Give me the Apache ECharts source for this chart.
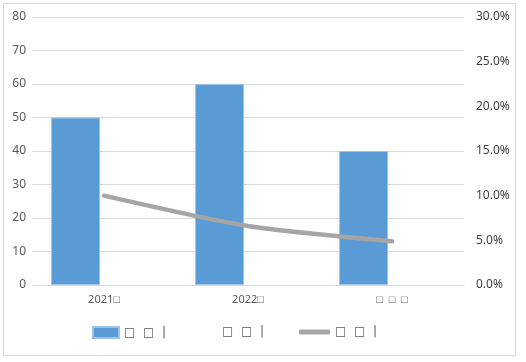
<!DOCTYPE html>
<html><head><meta charset="utf-8">
<script src="https://cdn.jsdelivr.net/npm/echarts@6/dist/echarts.min.js"></script>
<style>html,body{margin:0;padding:0;background:#fff}#c{width:526px;height:362px}</style>
</head><body><div id="c"></div>
<script>
var categories = ['2021□', '2022□', '□  □  □'];
var seriesNames = ['□  □  |', '□  □  |', '□  □  |'];
var barValues = [50, 60, 40];
var emptyBarValues = [null, null, null];
var rateValues = [0.100, 0.066, 0.049];
var leftTicks = {min: 0, max: 80, interval: 10};
var rightTicks = {min: 0, max: 0.3, interval: 0.05};

var chart = echarts.init(document.getElementById('c'));
var font = 'Noto Sans';
var legText = {color: '#595959', fontFamily: 'DejaVu Sans', fontSize: 12};
chart.setOption({
  animation: false,
  graphic: [{type: 'rect', shape: {x: 3.5, y: 3.5, width: 512, height: 352}, style: {fill: 'none', stroke: '#d9d9d9', lineWidth: 1}, silent: true}],
  grid: {left: 32, right: 62, top: 17, bottom: 77},
  legend: [
    {data: [{name: 'a', icon: 'rect'}], left: 92, top: 326, padding: 0, itemWidth: 26, itemHeight: 11, itemGap: 5,
     formatter: function(){return seriesNames[0];}, textStyle: legText},
    {data: [{name: 'b', icon: 'rect'}], left: 191, top: 326, padding: 0, itemWidth: 26, itemHeight: 11, itemGap: 5,
     formatter: function(){return seriesNames[1];}, textStyle: legText},
    {data: [{name: 'c', icon: 'roundRect'}], left: 299, top: 326, padding: 0, itemWidth: 31, itemHeight: 5, itemGap: 5,
     formatter: function(){return seriesNames[2];}, textStyle: legText}
  ],
  xAxis: {
    type: 'category', data: categories,
    axisLine: {lineStyle: {color: '#d9d9d9'}}, axisTick: {show: false},
    axisLabel: {color: '#595959', fontFamily: font, fontSize: 11, margin: 9}
  },
  yAxis: [
    {type: 'value', min: leftTicks.min, max: leftTicks.max, interval: leftTicks.interval,
     axisLine: {show: false}, axisTick: {show: false},
     splitLine: {lineStyle: {color: '#d9d9d9'}},
     axisLabel: {color: '#595959', fontFamily: font, fontSize: 12, margin: 6}},
    {type: 'value', min: rightTicks.min, max: rightTicks.max, interval: rightTicks.interval,
     axisLine: {show: false}, axisTick: {show: false}, splitLine: {show: false},
     axisLabel: {color: '#404040', fontFamily: font, fontSize: 12, margin: 12,
       formatter: function(v){return (v*100).toFixed(1) + '%';}}}
  ],
  series: [
    {name: 'a', type: 'bar', data: barValues, barWidth: 49, barGap: '16%',
     itemStyle: {color: '#5b9bd5', borderColor: '#9dc3e6', borderWidth: 1}},
    {name: 'b', type: 'bar', data: emptyBarValues, barWidth: 49,
     itemStyle: {color: 'rgba(0,0,0,0)'}},
    {name: 'c', type: 'line', yAxisIndex: 1, data: rateValues, smooth: 0.25, symbol: 'none',
     lineStyle: {color: '#a5a5a5', width: 4.5, cap: 'round'}, itemStyle: {color: '#a5a5a5'}}
  ]
});
</script></body></html>
